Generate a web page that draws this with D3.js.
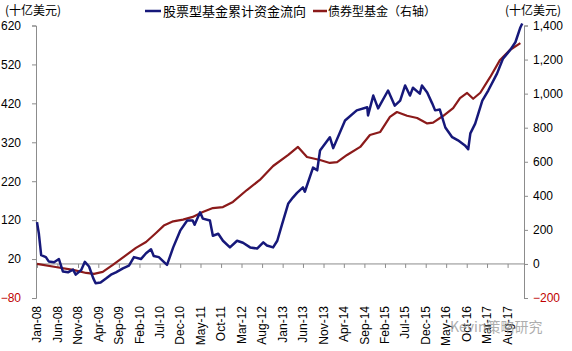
<!DOCTYPE html>
<html>
<head>
<meta charset="utf-8">
<script src="https://cdn.jsdelivr.net/npm/d3@7"></script>
<style>
  body { margin: 0; background: #fff; }
  svg { display: block; }
  text { font-family: "Liberation Sans", Arial, sans-serif; }
  .cjk { font-family: "Noto Sans CJK SC", sans-serif; }
</style>
</head>
<body>
<div id="chart"></div>
<script>
// equity funds, cumulative flows (left axis, bn USD)
const equityDates = ["2008-01-01","2008-01-15","2008-02-01","2008-03-07","2008-03-28","2008-05-07","2008-06-12","2008-07-12","2008-08-18","2008-09-25","2008-10-15","2008-11-25","2008-12-22","2009-01-22","2009-02-22","2009-03-12","2009-04-18","2009-05-28","2009-07-04","2009-08-10","2009-10-01","2009-11-15","2009-12-22","2010-02-12","2010-03-22","2010-04-28","2010-05-18","2010-06-25","2010-08-01","2010-08-25","2010-10-10","2010-12-01","2011-01-22","2011-03-04","2011-03-18","2011-04-28","2011-05-18","2011-07-10","2011-08-01","2011-09-10","2011-10-15","2011-12-06","2012-01-28","2012-03-12","2012-05-04","2012-06-25","2012-08-10","2012-09-06","2012-10-22","2012-11-22","2012-12-28","2013-02-12","2013-03-18","2013-04-18","2013-06-01","2013-06-15","2013-08-15","2013-09-15","2013-10-06","2013-12-18","2014-01-12","2014-04-10","2014-07-06","2014-09-22","2014-09-28","2014-11-06","2014-12-12","2015-02-24","2015-04-15","2015-05-25","2015-07-01","2015-08-06","2015-08-28","2015-10-18","2015-11-03","2015-12-12","2016-01-18","2016-02-09","2016-03-15","2016-04-25","2016-06-15","2016-07-28","2016-09-18","2016-10-12","2016-10-28","2016-12-03","2017-01-25","2017-03-10","2017-05-15","2017-06-28","2017-08-18","2017-09-28","2017-11-04","2017-11-18"];
const equityFlows = [115,85,30,25,14,12,20,-12,-14,-7,-20,-8,13,1,-29,-42,-40,-30,-20,-14,-4,3,25,20,35,45,28,25,13,5,50,93,119,119,108,140,124,119,80,85,67,50,67,62,50,47,63,55,50,67,110,163,178,190,204,193,255,248,299,333,305,376,402,410,389,440,407,453,414,427,466,440,460,445,466,448,420,402,404,358,333,325,312,302,343,368,427,453,497,535,556,577,615,625];

// bond funds (right axis)
const bondDates = ["2008-01-01","2008-05-18","2008-09-25","2009-01-01","2009-02-28","2009-05-04","2009-07-18","2009-10-25","2010-01-06","2010-03-22","2010-06-04","2010-08-01","2010-10-10","2010-12-22","2011-03-04","2011-05-18","2011-08-01","2011-10-15","2011-12-28","2012-04-10","2012-07-15","2012-10-22","2013-02-12","2013-04-25","2013-07-01","2013-10-06","2013-12-18","2014-02-10","2014-04-25","2014-08-01","2014-10-12","2014-12-28","2015-03-10","2015-05-01","2015-07-15","2015-09-28","2015-12-12","2016-01-25","2016-04-10","2016-06-22","2016-08-12","2016-10-04","2016-11-18","2017-01-10","2017-03-25","2017-06-06","2017-08-18","2017-11-04"];
const bondFlows = [0,-18,-35,-53,-58,-47,-6,52,94,129,182,225,250,260,276,305,328,334,364,434,493,575,640,687,628,610,593,598,640,687,757,775,863,892,870,857,825,830,870,915,974,1004,970,1005,1098,1198,1256,1297];

const leftTicks = [-80, 20, 120, 220, 320, 420, 520, 620];
const rightTicks = [-200, 0, 200, 400, 600, 800, 1000, 1200, 1400];
const equityName = "股票型基金累计资金流向";
const bondName = "债券型基金（右轴）";
const unitLabel = "(十亿美元)";

const width = 572, height = 351;
const parse = d3.timeParse("%Y-%m-%d");

const svg = d3.select("#chart")
  .append("svg")
  .attr("width", width)
  .attr("height", height);

// scales
const x = d3.scaleTime()
  .domain([parse("2008-01-01"), parse("2017-12-01")])
  .range([37, 524]);
const yL = d3.scaleLinear().domain([-80, 620]).range([298, 25.5]);
const yR = d3.scaleLinear().domain([-200, 1400]).range([298, 25.5]);

const axisColor = "#8c8c8c";
const negColor = "#c00000";

// left axis
const gL = svg.append("g")
  .attr("transform", "translate(36,0)")
  .call(d3.axisLeft(yL).tickValues(leftTicks).tickSize(4).tickPadding(11));
gL.selectAll("path, line").attr("stroke", axisColor);
gL.selectAll("text")
  .attr("font-size", 12)
  .attr("fill", d => d < 0 ? negColor : "#000");

// right axis
const gR = svg.append("g")
  .attr("transform", "translate(524,0)")
  .call(d3.axisRight(yR).tickValues(rightTicks).tickSize(4).tickPadding(5).tickFormat(d3.format(",")));
gR.selectAll("path, line").attr("stroke", axisColor);
gR.selectAll("text")
  .attr("font-size", 12)
  .attr("fill", d => d < 0 ? negColor : "#000");

// x axis on the right-axis zero line, labels at the bottom (every 5 months)
const start = parse("2008-01-01");
const monthTicks = d3.range(0, 116, 5).map(m => d3.timeMonth.offset(start, m));
const gX = svg.append("g")
  .attr("transform", `translate(0,${yR(0)})`)
  .call(d3.axisBottom(x).tickValues(monthTicks).tickSize(4).tickFormat(""));
gX.select(".domain").attr("d", `M36,0H524`);
gX.selectAll("path, line").attr("stroke", axisColor);

svg.append("g").selectAll("text")
  .data(monthTicks)
  .join("text")
    .attr("transform", d => `translate(${x(d)},306) rotate(-90)`)
    .attr("dy", "0.35em")
    .attr("text-anchor", "end")
    .attr("font-size", 12)
    .text(d3.timeFormat("%b-%y"));

// lines
const equity = equityDates.map((d, i) => ({ date: parse(d), v: equityFlows[i] }));
const bond = bondDates.map((d, i) => ({ date: parse(d), v: bondFlows[i] }));

svg.append("path")
  .datum(bond)
  .attr("fill", "none")
  .attr("stroke", "#8b1a1a")
  .attr("stroke-width", 2.2)
  .attr("stroke-linejoin", "round")
  .attr("d", d3.line().x(d => x(d.date)).y(d => yR(d.v)));

svg.append("path")
  .datum(equity)
  .attr("fill", "none")
  .attr("stroke", "#16187a")
  .attr("stroke-width", 2.5)
  .attr("stroke-linejoin", "round")
  .attr("d", d3.line().x(d => x(d.date)).y(d => yL(d.v)));

// units
svg.append("text").attr("class", "cjk")
  .attr("x", 5).attr("y", 15).attr("font-size", 12).text(unitLabel);
svg.append("text").attr("class", "cjk")
  .attr("x", 505).attr("y", 15).attr("font-size", 12).text(unitLabel);

// legend
svg.append("line").attr("x1", 145).attr("x2", 161).attr("y1", 11).attr("y2", 11)
  .attr("stroke", "#16187a").attr("stroke-width", 2.5);
svg.append("text").attr("class", "cjk")
  .attr("x", 163).attr("y", 16).attr("font-size", 13).text(equityName);
svg.append("line").attr("x1", 313).attr("x2", 327).attr("y1", 11).attr("y2", 11)
  .attr("stroke", "#8b1a1a").attr("stroke-width", 2.5);
svg.append("text").attr("class", "cjk")
  .attr("x", 328).attr("y", 16).attr("font-size", 12).text(bondName);

// watermark
svg.append("text").attr("class", "cjk")
  .attr("x", 450).attr("y", 332).attr("font-size", 14)
  .attr("fill", "#9a9a9a").attr("opacity", 0.8)
  .text("Kevin策略研究");
</script>
</body>
</html>
